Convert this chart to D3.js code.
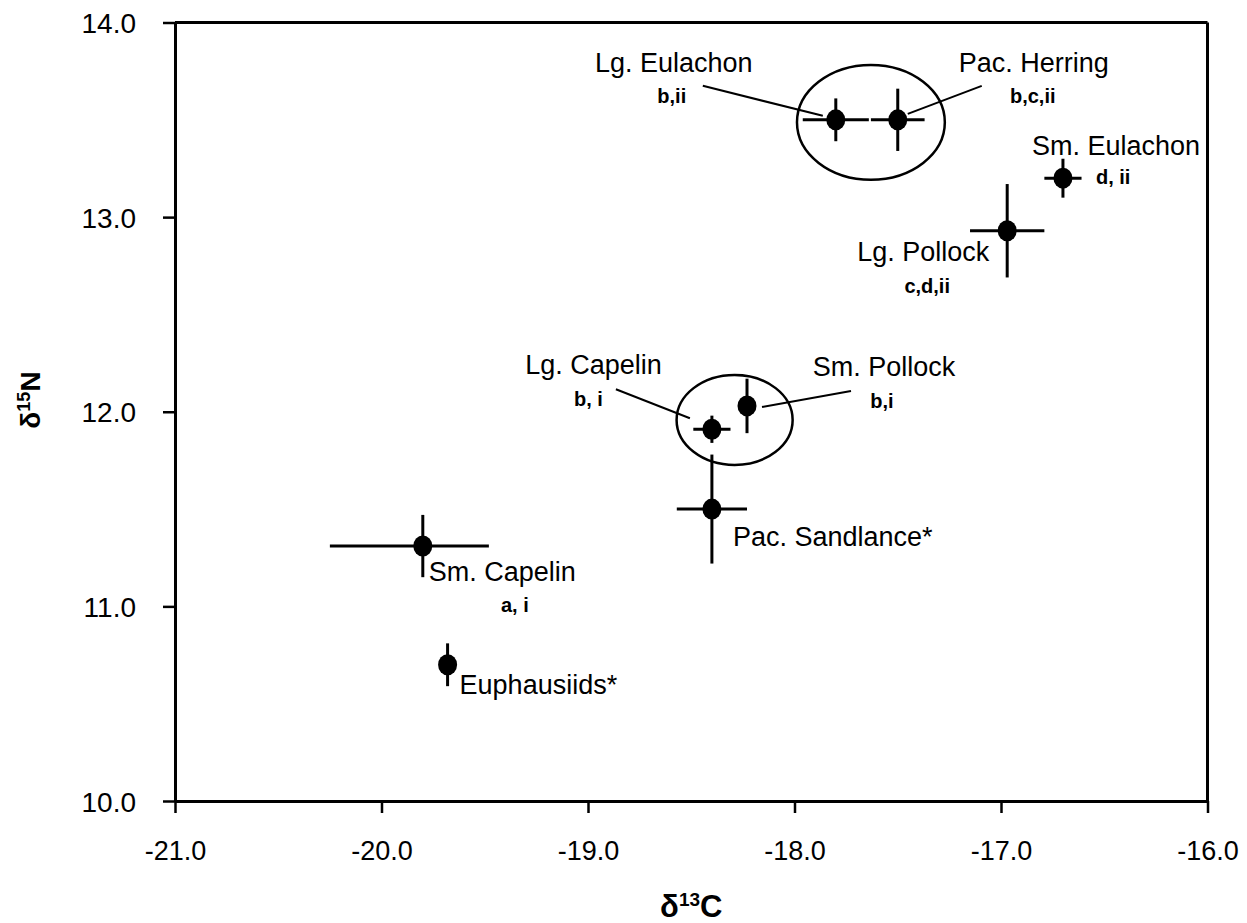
<!DOCTYPE html>
<html>
<head>
<meta charset="utf-8">
<script src="https://cdn.jsdelivr.net/npm/d3@7"></script>
<style>
  html, body { margin: 0; padding: 0; background: #fff; }
  svg { display: block; }
  text { font-family: "Liberation Sans", Arial, sans-serif; fill: #000; }
</style>
</head>
<body>
<svg id="chart" width="1247" height="923"></svg>
<script>
// ---- data ----
const species = ["Lg. Eulachon", "Pac. Herring", "Sm. Eulachon", "Lg. Pollock", "Lg. Capelin",
                 "Sm. Pollock", "Pac. Sandlance*", "Sm. Capelin", "Euphausiids*"];
const groups  = ["b,ii", "b,c,ii", "d, ii", "c,d,ii", "b, i", "b,i", "", "a, i", ""];
const d13C    = [-17.80, -17.50, -16.70, -16.97, -18.40, -18.23, -18.40, -19.80, -19.68];
const d15N    = [13.50, 13.50, 13.20, 12.93, 11.91, 12.03, 11.50, 11.31, 10.70];
const d13CErrLo = [0.16, 0.13, 0.09, 0.18, 0.09, 0.03, 0.17, 0.45, 0.00];
const d13CErrHi = [0.16, 0.13, 0.09, 0.18, 0.09, 0.03, 0.17, 0.32, 0.00];
const d15NErr   = [0.11, 0.16, 0.10, 0.24, 0.07, 0.14, 0.28, 0.16, 0.11];
const xTicks = [-21, -20, -19, -18, -17, -16];
const yTicks = [10, 11, 12, 13, 14];
// grouping ellipses: centre (d13C, d15N) and half-widths in data units
const ellipseCx = [-17.63, -18.29];
const ellipseCy = [13.487, 11.958];
const ellipseRx = [0.358, 0.281];
const ellipseRy = [0.295, 0.231];

// ---- layout (pixel offsets of labels relative to each point) ----
const layout = [
  {main:[-162,-48,"middle"], sub:[-164,-17,"middle"], lead:[-133,-34,-13,-4]},
  {main:[136,-48,"middle"],  sub:[135,-17,"middle"],  lead:[84,-34,10,-6]},
  {main:[53,-23,"middle"],   sub:[33,6,"start"],      lead:null},
  {main:[-84,30,"middle"],   sub:[-80,62,"middle"],   lead:null},
  {main:[-50,-55,"end"],     sub:[-109,-23,"end"],    lead:[-96,-40,-22,-11]},
  {main:[137,-30,"middle"],  sub:[135,2,"middle"],    lead:[104,-15,15,1]},
  {main:[21,37,"start"],     sub:null,                lead:null},
  {main:[6,35,"start"],      sub:[92,66,"middle"],    lead:null},
  {main:[12,29,"start"],     sub:null,                lead:null}
];

const svg = d3.select("#chart");
const mLeft = 175, mRight = 1207.5, mTop = 22.5, mBottom = 801;

const x = d3.scaleLinear().domain([-21, -16]).range([mLeft, mRight]);
const y = d3.scaleLinear().domain([10, 14]).range([mBottom, mTop]);

// axes
const xAxis = svg.append("g").attr("transform", `translate(0,${mBottom})`)
  .call(d3.axisBottom(x).tickValues(xTicks).tickSize(12).tickSizeOuter(0).tickFormat(d3.format(".1f")).tickPadding(0));
const yAxis = svg.append("g").attr("transform", `translate(${mLeft},0)`)
  .call(d3.axisLeft(y).tickValues(yTicks).tickSize(12).tickSizeOuter(0).tickFormat(d3.format(".1f")).tickPadding(0));

[xAxis, yAxis].forEach(g => {
  g.select(".domain").attr("stroke", "#000").attr("stroke-width", 3);
  g.selectAll(".tick line").attr("stroke", "#000").attr("stroke-width", 2.5);
});
xAxis.selectAll(".tick text")
  .attr("font-size", 27).attr("y", 59).attr("dy", 0)
  .attr("fill", "#000")
  .style("font-family", '"Liberation Sans", Arial, sans-serif')
  .text(d => d3.format(".1f")(d).replace("−", "-"));
yAxis.selectAll(".tick text")
  .attr("font-size", 28).attr("x", -39).attr("dy", "0.36em")
  .attr("fill", "#000")
  .style("font-family", '"Liberation Sans", Arial, sans-serif');

// top & right borders
svg.append("line").attr("x1", mLeft).attr("x2", mRight).attr("y1", mTop).attr("y2", mTop)
  .attr("stroke", "#000").attr("stroke-width", 3);
svg.append("line").attr("x1", mRight).attr("x2", mRight).attr("y1", mTop).attr("y2", mBottom)
  .attr("stroke", "#000").attr("stroke-width", 3);

// axis titles
const xt = svg.append("text").attr("x", (mLeft + mRight) / 2).attr("y", 917)
  .attr("text-anchor", "middle").attr("font-size", 31).attr("font-weight", "bold");
xt.append("tspan").text("δ");
xt.append("tspan").attr("font-size", 19).attr("dy", -11).text("13");
xt.append("tspan").attr("dy", 11).text("C");

const yt = svg.append("text").attr("transform", "translate(40,400) rotate(-90)")
  .attr("text-anchor", "middle").attr("font-size", 28).attr("font-weight", "bold");
yt.append("tspan").text("δ");
yt.append("tspan").attr("font-size", 18).attr("dy", -10).text("15");
yt.append("tspan").attr("dy", 10).text("N");

// grouping ellipses
svg.append("g").selectAll("ellipse").data(ellipseCx).join("ellipse")
  .attr("cx", (d, i) => x(ellipseCx[i]))
  .attr("cy", (d, i) => y(ellipseCy[i]))
  .attr("rx", (d, i) => x(-21 + ellipseRx[i]) - x(-21))
  .attr("ry", (d, i) => y(10) - y(10 + ellipseRy[i]))
  .attr("fill", "none").attr("stroke", "#000").attr("stroke-width", 2.5);

const idx = d3.range(species.length);

// error bars
const eb = svg.append("g").attr("stroke", "#000").attr("stroke-width", 3);
eb.selectAll("line.h").data(idx).join("line").attr("class", "h")
  .attr("x1", i => x(d13C[i] - d13CErrLo[i])).attr("x2", i => x(d13C[i] + d13CErrHi[i]))
  .attr("y1", i => y(d15N[i])).attr("y2", i => y(d15N[i]));
eb.selectAll("line.v").data(idx).join("line").attr("class", "v")
  .attr("x1", i => x(d13C[i])).attr("x2", i => x(d13C[i]))
  .attr("y1", i => y(d15N[i] - d15NErr[i])).attr("y2", i => y(d15N[i] + d15NErr[i]));

// points
svg.append("g").selectAll("ellipse").data(idx).join("ellipse")
  .attr("cx", i => x(d13C[i])).attr("cy", i => y(d15N[i]))
  .attr("rx", 9.5).attr("ry", 10.5).attr("fill", "#000");

// leader lines and labels
const lab = svg.append("g");
idx.forEach(i => {
  const px = x(d13C[i]), py = y(d15N[i]);
  const L = layout[i];
  if (L.lead) {
    lab.append("line")
      .attr("x1", px + L.lead[0]).attr("y1", py + L.lead[1])
      .attr("x2", px + L.lead[2]).attr("y2", py + L.lead[3])
      .attr("stroke", "#000").attr("stroke-width", 2);
  }
  lab.append("text").attr("x", px + L.main[0]).attr("y", py + L.main[1])
    .attr("text-anchor", L.main[2]).attr("font-size", 27).text(species[i]);
  if (L.sub && groups[i]) {
    lab.append("text").attr("x", px + L.sub[0]).attr("y", py + L.sub[1])
      .attr("text-anchor", L.sub[2]).attr("font-size", 20).attr("font-weight", "bold").text(groups[i]);
  }
});
</script>
</body>
</html>
